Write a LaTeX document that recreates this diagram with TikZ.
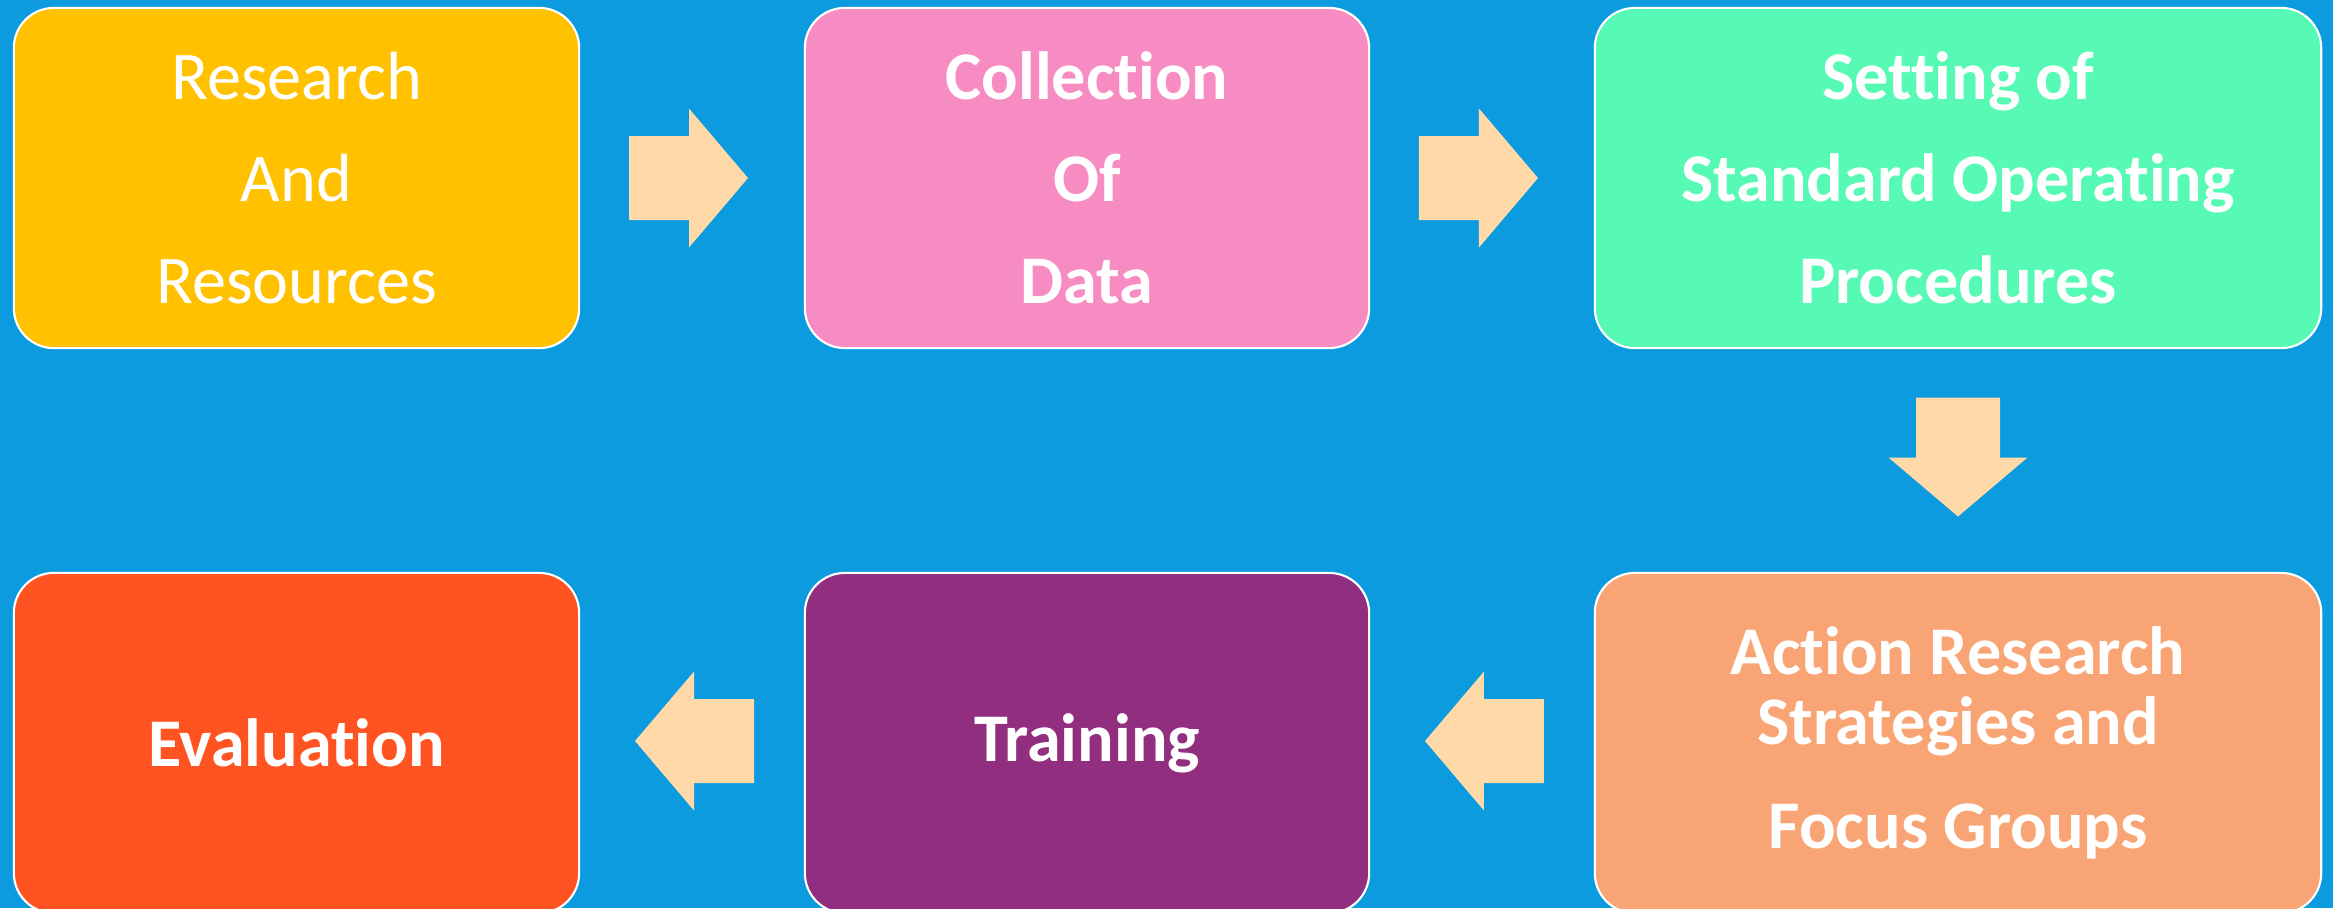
\documentclass[tikz,border=0pt]{standalone}
\usepackage{fontspec}
\setmainfont{Carlito}[RawFeature={-liga;-clig;-calt;-dlig}]
\usetikzlibrary{calc}
% keep "t" and "i" as separate glyphs
\newcommand\tisep{t\kern0pt i}
\definecolor{bgblue}{RGB}{12,155,222}
\definecolor{cyellow}{RGB}{255,193,0}
\definecolor{cpink}{RGB}{247,140,195}
\definecolor{cgreen}{RGB}{87,250,180}
\definecolor{cpeach}{RGB}{249,164,116}
\definecolor{cred}{RGB}{255,84,34}
\definecolor{cpurple}{RGB}{146,46,128}
\definecolor{carrow}{RGB}{255,218,168}
\begin{document}
\begin{tikzpicture}[x=0.01cm,y=-0.01cm,
  stepbox/.style={draw=white, line width=0.6pt, rounded corners=0.4cm,
    minimum height=3.4cm, inner sep=0pt, text=white, align=center,
    font=\fontsize{19.4}{29}\selectfont\bfseries},
  blockarrow/.pic={\fill[carrow] (-59.5,-42) -- (0.5,-42) -- (0.5,-69.5) -- (59.5,0)
    -- (0.5,69.5) -- (0.5,42) -- (-59.5,42) -- cycle;}]
  % canvas
  \fill[bgblue] (0,0) rectangle (2333,908);
  \useasboundingbox (0,0) rectangle (2333,908);
  \begin{scope}
    \clip (0,0) rectangle (2333,908);
    % upper row
    \node[stepbox, fill=cyellow, minimum width=5.65cm,
      font=\fontsize{19.4}{29}\selectfont] (res) at (296.5,178)
      {Research\\And\\Resources};
    \node[stepbox, fill=cpink, minimum width=5.64cm] (col) at (1087,178)
      {Collec\tisep on\\Of\\Data};
    \node[stepbox, fill=cgreen, minimum width=7.26cm] (sop) at (1958,178)
      {Set\tisep ng of\\Standard Opera\tisep ng\\Procedures};
    % lower row
    \node[stepbox, fill=cred, minimum width=5.65cm] (eva) at (296.5,743)
      {Evalua\tisep on};
    \node[stepbox, fill=cpurple, minimum width=5.64cm] (tra) at (1087,743)
      {Training};
    \node[stepbox, fill=cpeach, minimum width=7.26cm,
      font=\fontsize{19.4}{19.9}\selectfont\bfseries] (act) at (1958,743)
      {Ac\tisep on Research\\Strategies and\\[9.7pt]Focus Groups};
  \end{scope}
  % flow arrows between the steps
  \pic at ($(res.east)!0.5!(col.west)+(-3.5,0)$) {blockarrow};
  \pic at ($(col.east)!0.5!(sop.west)+(-3.5,0)$) {blockarrow};
  \pic[rotate=-90] at ($(sop.south)!0.5!(act.north)+(0,-3.5)$) {blockarrow};
  \pic[rotate=180] at ($(act.west)!0.5!(tra.east)+(2.5,-2)$) {blockarrow};
  \pic[rotate=180] at ($(tra.west)!0.5!(eva.east)+(2.5,-2)$) {blockarrow};
\end{tikzpicture}
\end{document}
